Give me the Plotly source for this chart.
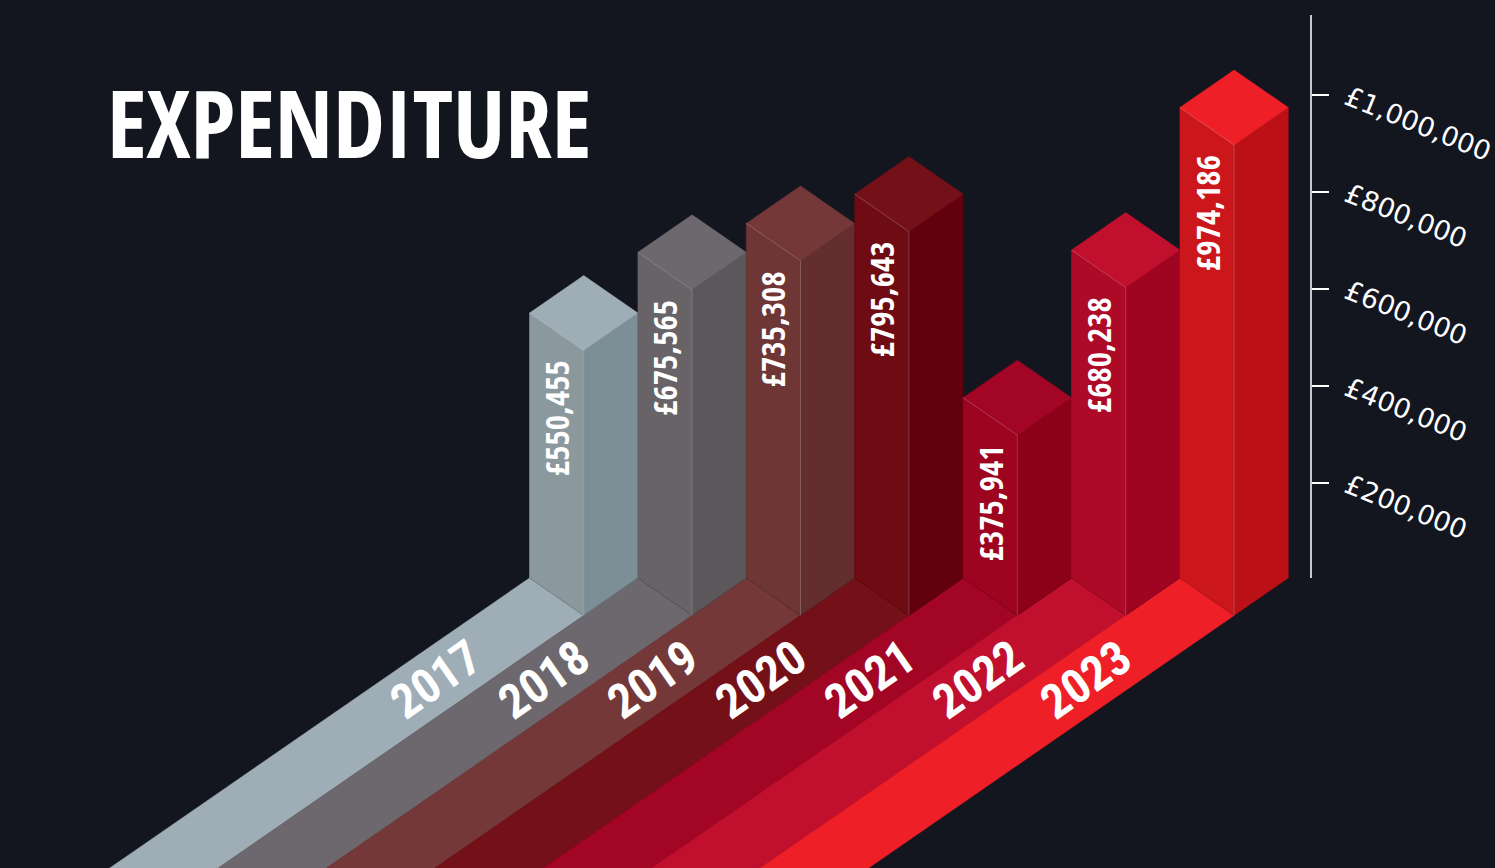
import plotly.graph_objects as go

# Chart data
years = ["2017", "2018", "2019", "2020", "2021", "2022", "2023"]
spend = [550455, 675565, 735308, 795643, 375941, 680238, 974186]
axis_ticks = [200000, 400000, 600000, 800000, 1000000]
axis_labels = ["£200,000", "£400,000", "£600,000", "£800,000", "£1,000,000"]

# Face colours per year
top_colors = ["#9eadb6", "#6d686d", "#743838", "#741018", "#a30525", "#c0102e", "#ee1f26"]
left_colors = ["#8b999f", "#676366", "#6f3636", "#6e0b13", "#9c0420", "#ad0a28", "#cb161c"]
right_colors = ["#7c8e96", "#5c575a", "#642e2e", "#62000e", "#8c0018", "#9f0520", "#bb1016"]

BG = "#13161f"
W, H = 1495, 868

# Isometric projection settings, in screen pixels
FIRST_X = 529.5
STEP_X = 108.4
HALF_W = 54.2
DEPTH_Y = 37.5
GROUND_Y = 578.0
ZERO_Y = 580.0
PX_PER_POUND = 97.0 / 200000.0
STRIP_RUN = 700.0
STRIP_SLOPE = 0.691

TITLE_FONT = "Open Sans Condensed"
YEAR_FONT = "Roboto Condensed"
AXIS_FONT = "DejaVu Sans"


def height_y(value):
    return ZERO_Y - value * PX_PER_POUND


def polygon(xs, ys, color):
    return go.Scatter(
        x=xs + xs[:1], y=ys + ys[:1], mode="lines", fill="toself", fillcolor=color,
        line=dict(color=color, width=0.5), hoverinfo="skip", showlegend=False,
    )


def edge(xs, ys, color, width=1):
    return go.Scatter(
        x=xs, y=ys, mode="lines", line=dict(color=color, width=width),
        hoverinfo="skip", showlegend=False,
    )


fig = go.Figure()

# Ground strips running to the lower left
for i, year in enumerate(years):
    left = FIRST_X + i * STEP_X
    mid = left + HALF_W
    fig.add_trace(polygon(
        [left, mid, mid - STRIP_RUN, left - STRIP_RUN],
        [GROUND_Y, GROUND_Y + DEPTH_Y,
         GROUND_Y + DEPTH_Y + STRIP_RUN * STRIP_SLOPE, GROUND_Y + STRIP_RUN * STRIP_SLOPE],
        top_colors[i],
    ))

annotations = []

# Bars: left face, right face, top face, highlighted edges
for i, (year, value) in enumerate(zip(years, spend)):
    left = FIRST_X + i * STEP_X
    mid = left + HALF_W
    right = mid + HALF_W
    top = height_y(value)
    fig.add_trace(polygon([left, mid, mid, left],
                          [GROUND_Y, GROUND_Y + DEPTH_Y, top + DEPTH_Y, top], left_colors[i]))
    fig.add_trace(polygon([mid, right, right, mid],
                          [GROUND_Y + DEPTH_Y, GROUND_Y, top, top + DEPTH_Y], right_colors[i]))
    fig.add_trace(polygon([left, mid, right, mid],
                          [top, top - DEPTH_Y, top, top + DEPTH_Y], top_colors[i]))
    fig.add_trace(edge([left, mid, mid], [top, top + DEPTH_Y, GROUND_Y + DEPTH_Y],
                       "rgba(255,255,255,0.22)"))
    fig.add_trace(edge([left, mid, right], [GROUND_Y, GROUND_Y + DEPTH_Y, GROUND_Y],
                       "rgba(0,0,0,0.12)"))

    annotations.append(dict(
        x=left + 27, y=top + DEPTH_Y + 8, xref="x", yref="y", text=f"£{value:,}",
        textangle=-90, showarrow=False, xanchor="center", yanchor="top",
        font=dict(family=TITLE_FONT, size=33, color="white", weight="bold"),
    ))
    annotations.append(dict(
        x=left - 94, y=679, xref="x", yref="y", text=year, textangle=-35,
        showarrow=False, xanchor="center", yanchor="middle",
        font=dict(family=YEAR_FONT, size=48, color="white", weight="bold"),
    ))

annotations.append(dict(
    x=105, y=122, xref="x", yref="y", text="EXPENDITURE", showarrow=False,
    xanchor="left", yanchor="middle",
    font=dict(family=TITLE_FONT, size=93, color="white", weight="bold"),
))

# Value axis carries its own trace so the axis is drawn
fig.add_trace(go.Scatter(
    x=[1310.5] * len(axis_ticks), y=axis_ticks, xaxis="x", yaxis="y2",
    mode="markers", marker=dict(opacity=0), hoverinfo="skip", showlegend=False,
))

axis_low = (ZERO_Y - GROUND_Y) / PX_PER_POUND
axis_high = (ZERO_Y - 15) / PX_PER_POUND

fig.update_layout(
    width=W, height=H, margin=dict(l=0, r=0, t=0, b=0),
    paper_bgcolor=BG, plot_bgcolor="rgba(0,0,0,0)", showlegend=False, annotations=annotations,
    xaxis=dict(range=[0, W], visible=False, fixedrange=True),
    yaxis=dict(range=[H, 0], visible=False, fixedrange=True),
    yaxis2=dict(
        domain=[1 - GROUND_Y / H, 1 - 15 / H], range=[axis_low, axis_high],
        anchor="free", position=1310.5 / W, side="right", showgrid=False, zeroline=False,
        showline=True, linecolor="#c9c9cc", linewidth=2,
        ticks="outside", ticklen=17, tickwidth=2, tickcolor="white",
        tickvals=axis_ticks, ticktext=axis_labels, tickangle=22, ticklabelstandoff=14,
        tickfont=dict(family=AXIS_FONT, size=27, color="white"), fixedrange=True,
    ),
)

fig.write_html("out.html")
